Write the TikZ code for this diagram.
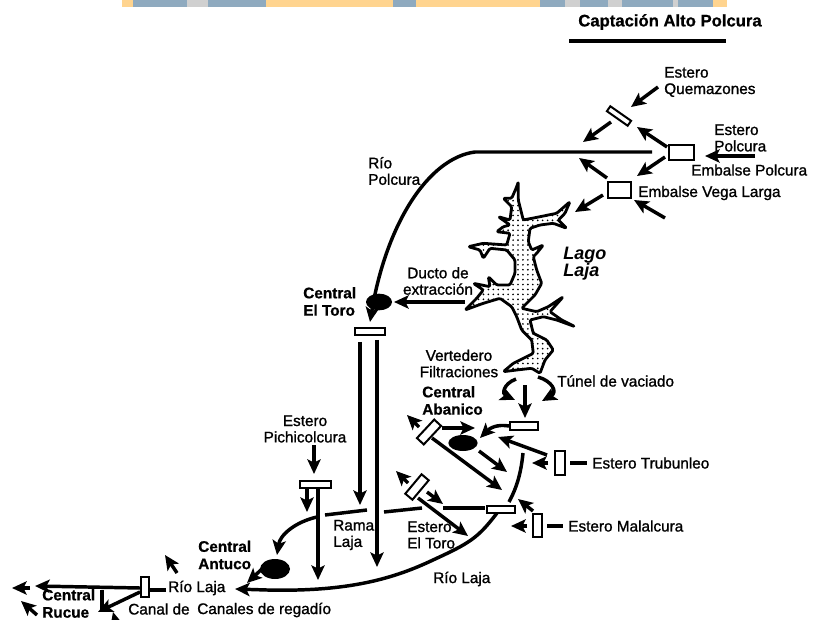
\documentclass[tikz,border=0pt]{standalone}
\usepackage{fontspec}
\usepackage{xcolor}
\setmainfont{Liberation Sans}
\newfontfamily\labfont{Liberation Sans}[FakeBold=1.2]
\newfontfamily\boldfont{Liberation Sans Bold}[FakeBold=0.8]
\usetikzlibrary{shapes, arrows.meta, positioning, calc, patterns.meta}
\definecolor{bannerY}{HTML}{FFD48F}
\definecolor{bannerB}{HTML}{8FAABF}
\definecolor{bannerG}{HTML}{D0D0D0}
\tikzset{
  lab/.style={font=\labfont\fontsize{11.5}{12.3}\selectfont, align=left, anchor=west, inner sep=0pt},
  headlab/.style={font=\boldfont\fontsize{11.5}{13}\selectfont, align=left, anchor=west, inner sep=0pt},
  flow/.style={line width=2.6pt, draw=black, -{Stealth[length=11pt,width=10pt,inset=2.5pt]}},
  stub/.style={line width=2.6pt, draw=black},
  gate/.style={draw=black, fill=white, line width=1.5pt, rectangle, inner sep=0pt},
  plant/.style={fill=black, ellipse, inner sep=0pt}
}
\begin{document}
\begin{tikzpicture}[x=0.75pt, y=-0.75pt]
\useasboundingbox (0,0) rectangle (814,620);

% Banner
\fill[bannerY] (122,0) rectangle (727,7);
\foreach \xa/\xb/\tone in {133/187/bannerB, 187/208/bannerG, 208/266/bannerB, 393/416/bannerB, 540/565/bannerB, 565/580/bannerG, 580/608/bannerB, 608/622/bannerG, 622/673/bannerB, 673/678/bannerG, 678/713/bannerB} {
   \fill[\tone] (\xa,0) rectangle (\xb,7);
}

% Title
\node[headlab, font=\boldfont\fontsize{12.5}{14}\selectfont, anchor=center] (title) at (670,22) {Captación Alto Polcura};
\coordinate (titleL) at (569,41);
\coordinate (titleR) at (726,41);
\draw[line width=3pt] (titleL) -- (titleR);

% Lake
\draw[line width=2.1pt, pattern={Dots[radius=0.7pt,distance=3.7pt]}, line join=round, rounded corners=1pt] (518.3,181.7) -- (518.3,200) -- (523.3,220) -- (540,216.7) -- (556.7,213.3) -- (570,201.7) -- (565,213.3) -- (558.3,220) -- (566.7,228.3) -- (553.3,223.3) -- (540,225) -- (530,228.3) -- (528.3,241.7) -- (531.7,250) -- (543.3,245) -- (536.7,253.3) -- (533.3,256.7) -- (536.7,270) -- (541.7,283.3) -- (535,295) -- (526.7,303.3) -- (521.7,308.3) -- (536.7,311.7) -- (548.3,306.7) -- (563.3,296.7) -- (550,311.7) -- (561.7,320) -- (575,326.7) -- (556.7,320) -- (543.3,316.7) -- (530,320) -- (533.3,333.3) -- (546.7,340) -- (553.3,350) -- (545,360) -- (540,373.3) -- (531.7,368.3) -- (516.7,370) -- (503.3,371.7) -- (513.3,363.3) -- (533.3,353.3) -- (531.7,340) -- (521.7,330) -- (516.7,316.7) -- (511.7,306.7) -- (500,298.3) -- (483.3,303.3) -- (465,310) -- (476.7,298.3) -- (483.3,290) -- (473.3,283.3) -- (490,286.7) -- (488.3,276.7) -- (496.7,285) -- (510,285) -- (515,273.3) -- (515,260) -- (506.7,250) -- (490,248.3) -- (483.3,258.3) -- (480,250) -- (468.3,246.7) -- (483.3,243.3) -- (506.7,245) -- (510,233.3) -- (496.7,231.7) -- (503.3,226.7) -- (510,225) -- (498.3,216.7) -- (510,220) -- (511.7,206.7) -- (503.3,198.3) -- (511.7,198.3) -- (516.7,186.7) -- cycle;

% Gates and plants
\node[gate, minimum width=18.5pt, minimum height=11pt] (polcuraG) at (681.5,152.5) {};
\node[gate, minimum width=17pt, minimum height=11.5pt] (vegaG) at (619.5,190) {};
\node[gate, minimum width=19pt, minimum height=4.5pt, rotate=-35] (quemaG) at (619,116) {};
\node[gate, minimum width=22pt, minimum height=5pt] (toroG) at (370,331.5) {};
\node[gate, minimum width=23pt, minimum height=5pt] (pichiG) at (315.5,484.5) {};
\node[gate, minimum width=21pt, minimum height=5.5pt] (tunelG) at (523.5,426) {};
\node[gate, minimum width=19pt, minimum height=7pt, rotate=47] (abanicoG) at (429,432) {};
\node[gate, minimum width=19pt, minimum height=7pt, rotate=50] (eltoroG) at (417,487) {};
\node[gate, minimum width=21pt, minimum height=5pt] (juntaG) at (500.5,509.5) {};
\node[gate, minimum width=7pt, minimum height=18pt] (trubunG) at (560,463) {};
\node[gate, minimum width=7pt, minimum height=17.5pt] (malalG) at (537.5,525.5) {};
\node[gate, minimum width=6pt, minimum height=15pt] (rucueG) at (145,587) {};
\node[plant, minimum width=19.5pt, minimum height=12.5pt] (toroP) at (379,302) {};
\node[plant, minimum width=22pt, minimum height=12pt] (abanicoP) at (463,443) {};
\node[plant, minimum width=22.5pt, minimum height=15pt] (antucoP) at (275,569) {};

% Straight arrows
\foreach \nm/\xa/\ya/\xb/\yb in {qA/658/87/631/107, qB/611/122/583/142, qC/667/147/637/127, qD/755/156/705/156, qE/665/157/637/176, qF/607/178/579/158, qG/603/195/575/212, qH/665/218/634/200, ducto/465/302/394/302, toroL/360/342/360/505, toroR/377/340/377/567, pichiA/314/445/314/474, pichiB/307/488/307/512, pichiC/318/488/318/580, tunelA/525/385/525/418, abA/442/428/475/428, abB/479/451/507/472, abC/432/438/502/490, abD/547/455/498/437, abE/419/427/407/415, trA/548/463/532/463, jnA/533/511/518/499, maA/527/526/511/526, etA/408/483/396/471, etB/427/492/443/504, etC/418/498/468/536, anA/263/568/247/583, ruA/177/573/165/555, ruB/140/588/35/586, ruC/30/588/12/588, ruD/37/615/21/601, ruE/117/627/113/612} {
   \coordinate (\nm s) at (\xa,\ya);
   \coordinate (\nm e) at (\xb,\yb);
   \draw[flow] (\nm s) -- (\nm e);
}

% Plain lines
\foreach \nm/\xa/\ya/\xb/\yb in {trB/570/463/587/463, maB/547/526/563/526, ramaA/325/515/367/510, ramaB/384/512/422/508, ramaC/443/508/485/508, ruF/166/590/150/590, ruG/102/590/102/612} {
   \coordinate (\nm s) at (\xa,\ya);
   \coordinate (\nm e) at (\xb,\yb);
   \draw[stub] (\nm s) -- (\nm e);
}

% Curved lines
\coordinate (polS) at (652,152);
\coordinate (polM) at (475,152);
\coordinate (polE) at (370,322);
\draw[flow] (polS) -- (polM) .. controls (428,158) and (386,225) .. (polE);
\coordinate (laS) at (497,513);
\coordinate (laE) at (235,589);
\draw[flow] (laS) .. controls (478,538) and (470,543) .. (433,560) .. controls (395,578) and (350,592) .. (267,590) -- (laE);
\coordinate (anS) at (317,517);
\coordinate (anE) at (277,555);
\draw[flow] (anS) .. controls (295,522) and (280,535) .. (anE);
\coordinate (tuS) at (509,426);
\coordinate (tuE) at (480,438);
\draw[flow] (tuS) .. controls (497,424) and (490,428) .. (tuE);
\coordinate (vlS) at (516,379);
\coordinate (vlE) at (515,400);
\draw[flow] (vlS) .. controls (503,384) and (502,394) .. (vlE);
\coordinate (vrS) at (538,377);
\coordinate (vrE) at (542,401);
\draw[flow] (vrS) .. controls (552,381) and (558,392) .. (vrE);
\coordinate (trS) at (523,453);
\coordinate (trE) at (509,502);
\draw[stub] (trS) .. controls (521,473) and (517,487) .. (trE);
\coordinate (ruS) at (140,592);
\coordinate (ruE) at (98,612);
\draw[flow] (ruS) -- (ruE);

% Labels
\node[lab] (quemaL) at (664,82) {Estero\\Quemazones};
\node[lab] (polcuraL) at (714,138) {Estero\\Polcura};
\node[lab] (embPL) at (691,170) {Embalse Polcura};
\node[lab] (embVL) at (638,193) {Embalse Vega Larga};
\node[lab] (rioPL) at (368,171) {Río\\Polcura};
\node[lab, font=\bfseries\itshape\fontsize{13.5}{13}\selectfont] (lagoL) at (563,264) {Lago\\Laja};
\node[lab, align=center, anchor=center] (ductoL) at (438,281) {Ducto de\\extracción};
\node[headlab] (toroL2) at (303,301.5) {Central\\El Toro};
\node[lab, align=center, anchor=center] (vertL) at (459,363.5) {Vertedero\\Filtraciones};
\node[lab] (tunelL) at (557,381) {Túnel de vaciado};
\node[headlab] (abanicoL) at (422,400.5) {Central\\Abanico};
\node[lab, align=center, anchor=center] (pichiL) at (305,429) {Estero\\Pichicolcura};
\node[lab] (trubunL) at (592,463) {Estero Trubunleo};
\node[lab] (malalL) at (568,526) {Estero Malalcura};
\node[lab] (ramaL) at (333,535) {Rama\\Laja};
\node[lab] (estToroL) at (407,535) {Estero\\El Toro};
\node[lab] (rioLajaR) at (433,579) {Río Laja};
\node[headlab] (antucoL) at (198,555) {Central\\Antuco};
\node[lab] (rioLajaL) at (168,588) {Río Laja};
\node[headlab] (rucueL) at (42,603.5) {Central\\Rucue};
\node[lab] (canalL) at (128,609) {Canal de};
\node[lab] (regadioL) at (197,610) {Canales de regadío};
\end{tikzpicture}
\end{document}
